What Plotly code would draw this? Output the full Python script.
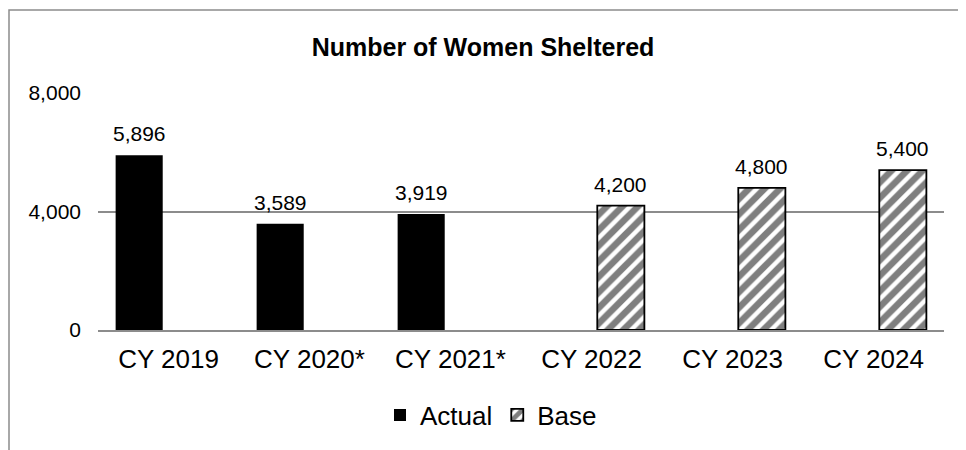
import plotly.graph_objects as go

categories = ["CY 2019", "CY 2020*", "CY 2021*", "CY 2022", "CY 2023", "CY 2024"]
actual_cats = ["CY 2019", "CY 2020*", "CY 2021*"]
actual_vals = [5896, 3589, 3919]
base_cats = ["CY 2022", "CY 2023", "CY 2024"]
base_vals = [4200, 4800, 5400]
y_ticks = [0, 4000, 8000]
y_ticktext = ["0", "4,000", "8,000"]

FONT = "Liberation Sans, Arial, sans-serif"
GRID = "#8c8c8c"
BW = 0.334
OFF_A = -0.375
OFF_B = 0.041

fig = go.Figure()
fig.add_trace(go.Bar(
    name="Actual", x=actual_cats, y=actual_vals,
    width=BW, offset=OFF_A,
    marker=dict(color="black", line=dict(color="black", width=0)),
))
fig.add_trace(go.Bar(
    name="Base", x=base_cats, y=base_vals,
    width=BW, offset=OFF_B,
    marker=dict(color="white", line=dict(color="black", width=1.8),
                pattern=dict(shape="/", size=11, solidity=0.6, fgcolor="black", bgcolor="white")),
))

annotations = []
for cats, vals, off in ((actual_cats, actual_vals, OFF_A), (base_cats, base_vals, OFF_B)):
    for c, v in zip(cats, vals):
        i = categories.index(c)
        annotations.append(dict(x=i + off + BW / 2, y=v, xref="x", yref="y",
                                text=f"{v:,}", showarrow=False, yanchor="bottom", yshift=8,
                                font=dict(size=21, color="black", family=FONT)))

# the page has an 8px body margin; positions below are measured in page pixels
OFS = 8
L, R, T, B = 90, 30, 85, 128
pw = 966 - L - R
ph = 450 - T - B

def px_x(px):
    return (px - OFS - L) / pw

def px_y(py):
    return (450 - B - (py - OFS)) / ph

fig.update_layout(
    width=966, height=450, autosize=False,
    margin=dict(l=L, r=R, t=T, b=B, pad=0),
    paper_bgcolor="white", plot_bgcolor="white",
    font=dict(family=FONT, color="black"),
    title=dict(text="<b>Number of Women Sheltered</b>", x=(483 - OFS) / 966, xref="container",
               xanchor="center", y=1 - (47 - OFS) / 450, yref="container", yanchor="middle",
               font=dict(size=25, color="black", family=FONT)),
    barmode="overlay",
    showlegend=True,
    legend=dict(orientation="h", x=px_x(491), xanchor="center", y=px_y(415), yanchor="middle",
                font=dict(size=26, color="black", family=FONT), itemwidth=30,
                bgcolor="rgba(0,0,0,0)"),
    xaxis=dict(type="category", categoryorder="array", categoryarray=categories,
               range=[-0.5, 5.5], showgrid=False, showline=True, linecolor=GRID, linewidth=1.5,
               ticks="", tickfont=dict(size=26, color="black", family=FONT),
               ticklabelstandoff=5, fixedrange=True),
    yaxis=dict(range=[0, 8000], tickvals=y_ticks, ticktext=y_ticktext,
               showgrid=True, gridcolor=GRID, gridwidth=1.5, zeroline=False, showline=False,
               ticks="", tickfont=dict(size=21, color="black", family=FONT),
               ticklabelstandoff=16, fixedrange=True),
    annotations=annotations,
    shapes=[dict(type="rect", xref="paper", yref="paper",
                 x0=px_x(9), x1=px_x(990), y0=px_y(480), y1=px_y(10),
                 line=dict(color=GRID, width=1.5), fillcolor="rgba(0,0,0,0)", layer="below")],
)

fig.write_html("out.html")
